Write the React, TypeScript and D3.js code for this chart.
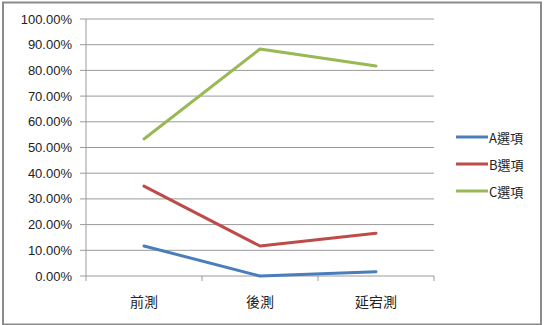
import React from "react";
import * as d3 from "d3";

const categories = ["前測", "後測", "延宕測"];
const seriesNames = ["A選項", "B選項", "C選項"];
const seriesA = [11.67, 0, 1.67];
const seriesB = [35, 11.67, 16.67];
const seriesC = [53.33, 88.33, 81.67];
const yTicks = [0, 10, 20, 30, 40, 50, 60, 70, 80, 90, 100];
const colors = ["#4A7EBB", "#BE4B48", "#98B954"];

export default function App() {
  const W = 544, H = 325;
  const left = 86, right = 434, top = 19, bottom = 276;
  const x = d3.scaleBand<string>().domain(categories).range([left, right]);
  const y = d3.scaleLinear().domain([0, 100]).range([bottom, top]);
  const line = d3
    .line<number>()
    .x((_, i) => (x(categories[i]) as number) + x.bandwidth() / 2)
    .y((d) => y(d));
  const all = [seriesA, seriesB, seriesC];
  const font = "'Noto Sans CJK TC', 'Noto Sans', sans-serif";
  const gridColor = "#9a9a9a";
  const bounds = [left, ...categories.map((c) => (x(c) as number) + x.bandwidth())];
  return (
    <svg
      width={W}
      height={H}
      style={{ position: "fixed", left: 0, top: 0, background: "#fff" }}
    >
      <rect x={3} y={2.5} width={538} height={322} fill="#fff" stroke="#8a8a8a" strokeWidth={2} />
      {yTicks.map((t) => (
        <g key={t}>
          <line x1={left - 6} x2={right} y1={y(t)} y2={y(t)} stroke={gridColor} strokeWidth={1} />
          <text
            x={72}
            y={y(t)}
            textAnchor="end"
            dominantBaseline="central"
            fontFamily="'Liberation Sans', sans-serif"
            fontSize={13}
            fill="#222"
          >
            {t.toFixed(2)}%
          </text>
        </g>
      ))}
      <line x1={left} x2={left} y1={top} y2={bottom} stroke={gridColor} strokeWidth={1} />
      {bounds.map((b, i) => (
        <line key={i} x1={b} x2={b} y1={bottom} y2={bottom + 5} stroke={gridColor} strokeWidth={1} />
      ))}
      {categories.map((c) => (
        <text
          key={c}
          x={(x(c) as number) + x.bandwidth() / 2}
          y={301}
          textAnchor="middle"
          dominantBaseline="central"
          fontFamily={font}
          fontSize={14}
          fill="#222"
        >
          {c}
        </text>
      ))}
      {all.map((s, i) => (
        <path
          key={i}
          d={line(s) as string}
          fill="none"
          stroke={colors[i]}
          strokeWidth={3}
          strokeLinejoin="round"
          strokeLinecap="round"
        />
      ))}
      {seriesNames.map((n, i) => (
        <g key={n} transform={`translate(0, ${137 + i * 27})`}>
          <line x1={456} x2={488} y1={0} y2={0} stroke={colors[i]} strokeWidth={3} />
          <text x={489} y={0} dominantBaseline="central" fontFamily={font} fontSize={13} fill="#222">
            {n}
          </text>
        </g>
      ))}
    </svg>
  );
}
